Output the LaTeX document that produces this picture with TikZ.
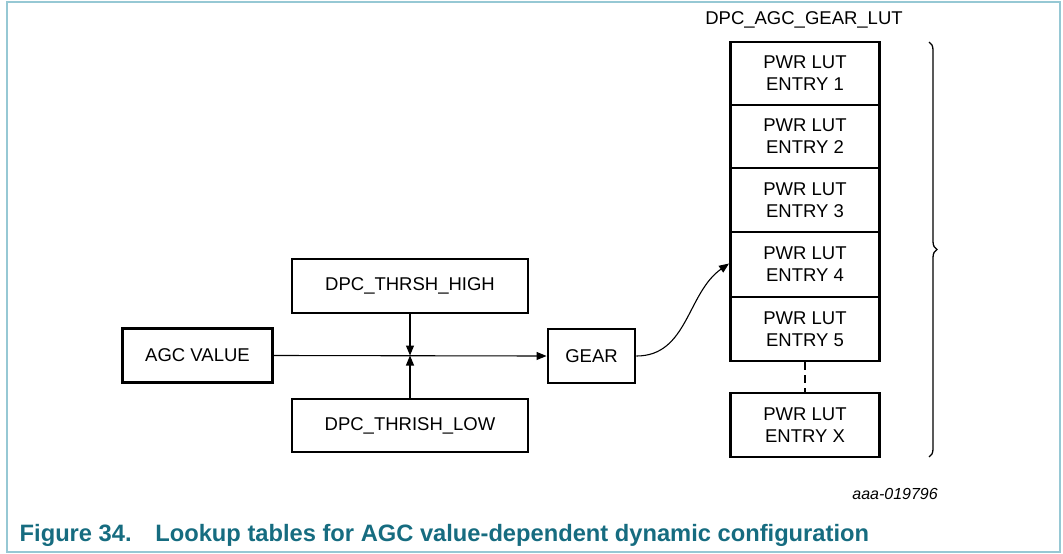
\documentclass[tikz,border=0pt]{standalone}
\usepackage{fontspec}
\setmainfont{Liberation Sans}
\usetikzlibrary{arrows.meta,decorations.pathreplacing}
\definecolor{framecol}{RGB}{150,200,212}
\definecolor{captcol}{RGB}{22,108,128}
\begin{document}
\begin{tikzpicture}[x=1pt,y=-1pt,
  font=\fontsize{18.5}{22}\selectfont,
  box/.style={draw, line width=2.9pt, inner sep=0pt, align=center},
  conn/.style={line width=1.1pt, -{Triangle[length=10pt,width=8pt]}}]
\useasboundingbox (0,0) rectangle (1063,554);
\draw[framecol, line width=2pt] (7,2) rectangle (1060,552);

\node[box, minimum width=150pt, minimum height=54pt] (agc) at (197.5,355.5) {AGC VALUE};
\node[box, minimum width=236pt, minimum height=54pt] (high) at (410,286) {DPC\_THRSH\_HIGH};
\node[box, minimum width=236pt, minimum height=53pt] (low) at (410,425.5) {DPC\_THRISH\_LOW};
\node[box, minimum width=87pt, minimum height=54pt] (gear) at (591.5,356) {GEAR};

\node[box, minimum width=149pt, minimum height=63pt] (e1) at (805,73.5) {PWR LUT\\ENTRY 1};
\node[box, minimum width=149pt, minimum height=63pt] (e2) at (805,136.5) {PWR LUT\\ENTRY 2};
\node[box, minimum width=149pt, minimum height=64pt] (e3) at (805,200) {PWR LUT\\ENTRY 3};
\node[box, minimum width=149pt, minimum height=65pt] (e4) at (805,264.5) {PWR LUT\\ENTRY 4};
\node[box, minimum width=149pt, minimum height=64pt] (e5) at (805,329) {PWR LUT\\ENTRY 5};
\node[box, minimum width=149pt, minimum height=64pt] (ex) at (805,425) {PWR LUT\\ENTRY X};

\node (lutlabel) at (804,20) {DPC\_AGC\_GEAR\_LUT};

\coordinate (j) at (high.south |- agc.east);
\draw[conn] (agc.east) -- (gear.west);
\draw[conn] (high.south) -- (j);
\draw[conn] (low.north) -- (j);
\draw[conn] (gear.east) to[out=0,in=215] ([yshift=1pt]e4.west);
\draw[line width=1.2pt, dash pattern=on 8pt off 5pt] (e5.south) -- (ex.north);

\coordinate (bt) at (929,42);
\coordinate (bb) at (929,457);
\draw[line width=1.3pt, decorate, decoration={brace, amplitude=8pt}] (bt) -- (bb);

\node[anchor=base east, inner sep=0pt, font=\fontsize{16}{18}\selectfont\itshape] (ref) at (938,499) {aaa-019796};
\node[anchor=base west, inner sep=0pt, text=captcol, font=\fontsize{23.7}{26}\selectfont\bfseries] (cap) at (19.5,541) {Figure 34.\hspace{1.0em}Lookup tables for AGC value-dependent dynamic configuration};
\end{tikzpicture}
\end{document}
